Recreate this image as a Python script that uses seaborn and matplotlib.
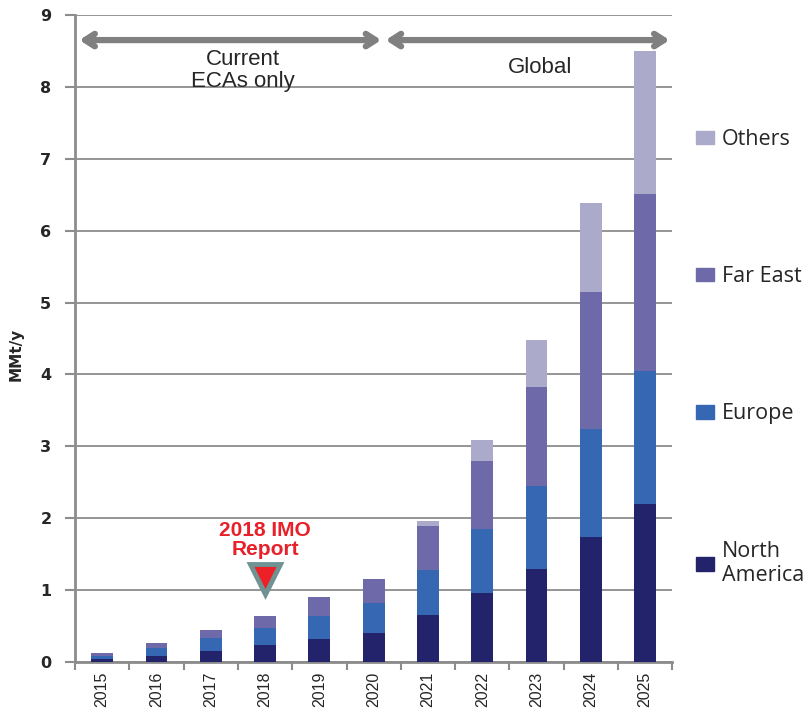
import pandas as pd
import matplotlib.pyplot as plt
import matplotlib.patches as mpatches
import seaborn as sns

# valores (MMt/y)
years = ['2015', '2016', '2017', '2018', '2019', '2020',
         '2021', '2022', '2023', '2024', '2025']
north_america = [0.04, 0.09, 0.16, 0.23, 0.32, 0.40, 0.65, 0.96, 1.30, 1.74, 2.20]
europe = [0.05, 0.10, 0.17, 0.24, 0.32, 0.42, 0.63, 0.89, 1.15, 1.50, 1.85]
far_east = [0.03, 0.07, 0.11, 0.17, 0.26, 0.34, 0.61, 0.95, 1.37, 1.91, 2.46]
others = [0.01, 0.0, 0.0, 0.0, 0.0, 0.0, 0.07, 0.29, 0.66, 1.23, 1.99]

regions = ['North\nAmerica', 'Europe', 'Far East', 'Others']
colors = ['#22236a', '#3567b2', '#6e6aaa', '#abaacb']

df = pd.DataFrame({'year': years, 'North\nAmerica': north_america,
                   'Europe': europe, 'Far East': far_east, 'Others': others})
acumulado = df[regions].cumsum(axis=1)

sns.set_style('white')
plt.rcParams['font.family'] = ['Liberation Sans', 'DejaVu Sans']

fig, ax = plt.subplots(figsize=(8.1, 7.1), dpi=100)
fig.subplots_adjust(left=0.0926, right=0.83, bottom=0.0676, top=0.979)

# barras apiladas: se dibuja el total acumulado de arriba hacia abajo
for reg, col in zip(regions[::-1], colors[::-1]):
    sns.barplot(x=df['year'], y=acumulado[reg], color=col, width=0.4,
                saturation=1, linewidth=0, ax=ax, zorder=3)

ax.set_xlim(-0.5, 10.5)
ax.set_ylim(0, 9)
ax.set_yticks(range(0, 10))
ax.grid(axis='y', color='#8c8c8c', lw=1.3, zorder=0)
ax.set_axisbelow(True)
for s in ['top', 'right']:
    ax.spines[s].set_visible(False)
for s in ['left', 'bottom']:
    ax.spines[s].set_color('#8c8c8c')
    ax.spines[s].set_linewidth(2)

ax.set_xlabel('')
ax.set_ylabel('MMt/y', fontsize=11, fontweight='bold', family='DejaVu Sans')
ax.yaxis.set_label_coords(-0.086, 0.475)
ax.set_xticks([i - 0.5 for i in range(12)], minor=True)
ax.tick_params(axis='x', which='major', length=0, pad=7, labelsize=11.5, rotation=90)
ax.tick_params(axis='x', which='minor', length=6, width=1.5, color='#8c8c8c', direction='out', bottom=True)
ax.tick_params(axis='y', length=7, width=1.5, color='#8c8c8c', direction='out', left=True, pad=10)
for lab in ax.get_yticklabels():
    lab.set_fontweight('bold')
    lab.set_family('DejaVu Sans')
    lab.set_fontsize(11.5)

# flechas de periodos
flecha = dict(arrowstyle='<->,head_length=0.7,head_width=0.45', lw=4.5,
              color='#808080', shrinkA=0, shrinkB=0)
ax.annotate('', xy=(-0.42, 8.65), xytext=(5.14, 8.65), arrowprops=flecha, zorder=5)
ax.annotate('', xy=(5.22, 8.65), xytext=(10.45, 8.65), arrowprops=flecha, zorder=5)
ax.text(2.6, 8.23, 'Current\nECAs only', ha='center', va='center', fontsize=16,
        linespacing=1.05, zorder=1)
ax.text(8.06, 8.27, 'Global', ha='center', va='center', fontsize=16)

# marca del reporte IMO 2018
ax.plot([3], [1.16], marker='v', markersize=22, color='#ee2027',
        markeredgecolor='#6f9393', markeredgewidth=3.5, zorder=6)
ax.text(3.0, 1.69, '2018 IMO\nReport', ha='center', va='center', fontsize=15,
        fontweight='bold', color='#e8202a', linespacing=1.0)

handles = [mpatches.Patch(color=c, label=r) for r, c in zip(regions[::-1], colors[::-1])]
fig.legend(handles=handles, loc='upper left', bbox_to_anchor=(696 / 810, (710 - 129) / 710),
           frameon=False, prop={'family': 'Open Sans', 'size': 15.5},
           handlelength=0.85, handleheight=0.6, handletextpad=0.35,
           labelspacing=5.4, borderpad=0, borderaxespad=0)

plt.savefig('out.png', dpi=100)
